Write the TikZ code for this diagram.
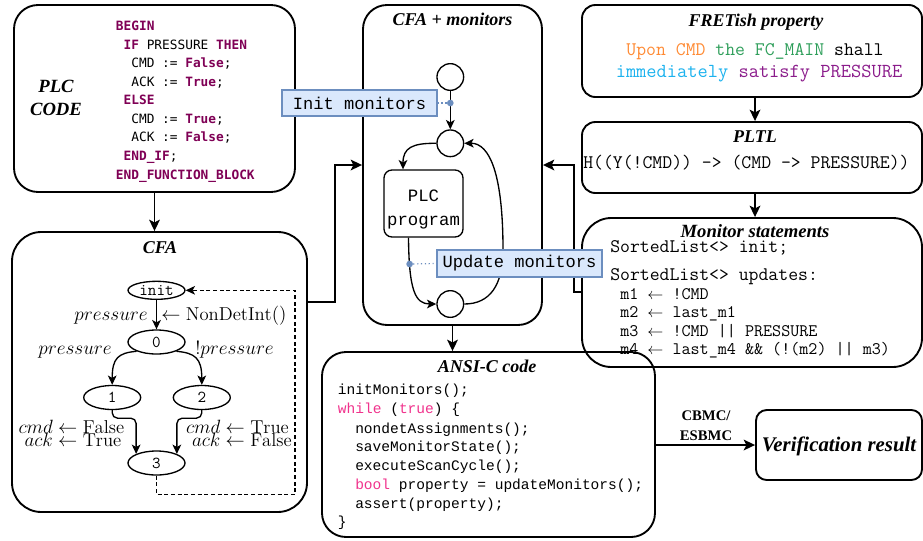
\documentclass[tikz,border=0pt]{standalone}
\usepackage{fontspec}
\usepackage{amsmath}
\usetikzlibrary{arrows.meta,fit,calc,shapes.geometric}
\newfontfamily\titleserif{Liberation Serif}
\newfontfamily\plcmono{DejaVu Sans Mono}
\newfontfamily\cmono{Liberation Mono}
\definecolor{plckwc}{HTML}{7F0055}
\definecolor{ckwc}{HTML}{F0328C}
\definecolor{fretor}{HTML}{FF8A33}
\definecolor{fretgr}{HTML}{2E9E5A}
\definecolor{fretcy}{HTML}{1CB2EE}
\definecolor{fretpu}{HTML}{8B1C8B}
\definecolor{monfill}{HTML}{DAE8FC}
\definecolor{monline}{HTML}{6C8EBF}
\newcommand\pk[1]{\textcolor{plckwc}{\bfseries #1}}
\newcommand\ck[1]{\textcolor{ckwc}{#1}}
\begin{document}
\begin{tikzpicture}[x=0.75pt,y=-0.75pt,
  box/.style={draw, line width=1.4pt, inner sep=0pt, rounded corners=#1},
  box/.default=18pt,
  ttl/.style={font=\titleserif\bfseries\itshape\fontsize{13.5}{15}\selectfont, inner sep=0pt},
  conn/.style={line width=1.4pt, -{Stealth[length=8.5pt,width=8pt,inset=2pt]}},
  edge/.style={line width=1pt, -{Stealth[length=7pt,width=6.5pt,inset=1.8pt]}},
  plcline/.style={font=\plcmono\fontsize{9.6}{11}\selectfont, anchor=base west, inner sep=0pt},
  cline/.style={font=\cmono\fontsize{10.9}{12}\selectfont, anchor=base west, inner sep=0pt},
  ttline/.style={font=\ttfamily\fontsize{14.4}{16}\selectfont, inner sep=0pt},
  mline/.style={font=\ttfamily\fontsize{13.2}{15}\selectfont, anchor=base west, inner sep=0pt},
  lbl/.style={font=\fontsize{14}{16}\selectfont, inner sep=0pt},
  st/.style={draw, ellipse, line width=1pt, minimum width=42.75pt, minimum height=18pt, inner sep=0pt, font=\ttfamily\fontsize{12.5}{14}\selectfont},
  circ/.style={draw, circle, line width=1pt, minimum size=20pt, inner sep=0pt},
  mbox/.style={draw=monline, fill=monfill, line width=0.9pt, inner sep=0pt, font=\cmono\fontsize{12.8}{14}\selectfont},
  mdot/.style={circle, fill=monline, minimum size=5pt, inner sep=0pt},
  mdots/.style={draw=monline, dotted, line width=0.9pt},
]
\useasboundingbox (0,0) rectangle (923,540);

% ---- boxes ----
\node[box=18pt, fit={(14,5)(295,192)}] (plc) {};
\node[box=22pt, fit={(12,232)(307,512)}] (cfa) {};
\node[box=18pt, fit={(363,5)(542,325)}] (cfam) {};
\node[box=10pt, fit={(582,5)(922,97)}] (fret) {};
\node[box=10pt, fit={(582,122)(922,193)}] (pltl) {};
\node[box=22pt, fit={(582,218)(922,367)}] (mon) {};
\node[box=18pt, fit={(322,352)(655,537)}] (ansi) {};
\node[box=8pt, fit={(756,410)(922,480)}] (verif) {};

% ---- titles ----
\node[ttl, align=center, font=\titleserif\bfseries\itshape\fontsize{14}{17}\selectfont] (tplc) at (56,98) {PLC\\CODE};
\node[ttl] (tcfa) at (160,248) {CFA};
\node[ttl] (tcfam) at (452.5,19.3) {CFA + monitors};
\node[ttl] (tfret) at (756,21.7) {FRETish property};
\node[ttl] (tpltl) at (755,136.7) {PLTL};
\node[ttl, font=\titleserif\bfseries\itshape\fontsize{14}{16}\selectfont] (tmon) at (755,231) {Monitor statements};
\node[ttl] (tansi) at (487,366) {ANSI-C code};
\node[ttl, font=\titleserif\bfseries\itshape\fontsize{15.6}{18}\selectfont] (tver) at (839,446) {Verification result};

% ---- PLC code ----
\node[plcline] (p0) at (115.7,30.6) {\pk{BEGIN}};
\node[plcline] (p1) at (123.4,49.2) {\pk{IF} PRESSURE \pk{THEN}};
\node[plcline] (p2) at (131.1,67.7) {CMD := \pk{False};};
\node[plcline] (p3) at (131.1,86.3) {ACK := \pk{True};};
\node[plcline] (p4) at (123.4,104.8) {\pk{ELSE}};
\node[plcline] (p5) at (131.1,123.4) {CMD := \pk{True};};
\node[plcline] (p6) at (131.1,141.9) {ACK := \pk{False};};
\node[plcline] (p7) at (123.4,160.5) {\pk{END\_IF};};
\node[plcline] (p8) at (115.7,179) {\pk{END\_FUNCTION\_BLOCK}};

% ---- CFA ----
\node[st, minimum height=13.5pt] (init) at (156.5,290.3) {init};
\node[st] (n0) at (156.5,342) {0};
\node[st] (n1) at (112.2,397.5) {1};
\node[st] (n2) at (201.8,397.5) {2};
\node[st] (n3) at (156.5,463) {3};
\draw[edge] (init.south) -- (n0.north);
\draw[edge] (n0.205) .. controls (118,353) and (112.2,358) .. (n1.north);
\draw[edge] (n0.335) .. controls (195,353) and (201.8,358) .. (n2.north);
\draw[edge, rounded corners=4pt] (n1.south) -- ++(0,8) -| (n3.156);
\draw[edge, rounded corners=4pt] (n2.south) -- ++(0,8) -| (n3.24);
\coordinate (lpc) at (295,290.3);
\draw[edge, dash pattern=on 3pt off 2pt, line width=0.9pt] (n3.south) -- ++(0,19) -| (lpc) -- (init.east);
\node[lbl, anchor=base east] (l1) at (148,320.5) {$pressure$};
\node[lbl, anchor=base west] (l2) at (161,320.5) {$\leftarrow \mathrm{NonDetInt}()$};
\node[lbl, anchor=base east] (l3) at (112,354.5) {$pressure$};
\node[lbl, anchor=base west] (l4) at (195,354.5) {$!pressure$};
\node[lbl, anchor=east] (l5) at (124.5,435.7) {$\begin{array}{@{}r@{}l@{}} cmd\leftarrow{} & \mathrm{False}\\[-6pt] ack\leftarrow{} & \mathrm{True}\end{array}$};
\node[lbl, anchor=east] (l6) at (292,435.7) {$\begin{array}{@{}r@{}l@{}} cmd\leftarrow{} & \mathrm{True}\\[-6pt] ack\leftarrow{} & \mathrm{False}\end{array}$};

% ---- CFA + monitors ----
\node[circ] (c1) at (450.3,77) {};
\node[circ] (c2) at (450.3,143.3) {};
\node[circ] (c3) at (450.3,304) {};
\node[draw, line width=1pt, rounded corners=6pt, fit={(384,170)(463,237)}, inner sep=0pt] (pbox) {};
\node[align=center, inner sep=0pt, font=\cmono\fontsize{13}{18}\selectfont] (ptxt) at (423.5,209) {PLC\\program};
\draw[edge] (c1.south) -- (c2.north);
\draw[edge] (c2.west) .. controls (412,143) and (403,148) .. ($(pbox.north)+(-20.5,0)$);
\draw[edge] ($(pbox.south)+(-15,0)$) .. controls (409,290) and (415,304) .. (c3.west);
\draw[edge] (c3.east) .. controls (490,304) and (503,285) .. (503,250) .. controls (503,175) and (490,143) .. (c2.east);

% ---- right column text ----
\node[ttline, anchor=base] (f1) at (755,55.7) {\textcolor{fretor}{Upon CMD} \textcolor{fretgr}{the FC\_MAIN} shall};
\node[ttline, anchor=base, font=\ttfamily\fontsize{14.9}{16}\selectfont] (f2) at (759,77.4) {\textcolor{fretcy}{immediately} \textcolor{fretpu}{satisfy PRESSURE}};
\node[ttline, anchor=base west] (pf) at (583,168.4) {H((Y(!CMD)) -> (CMD -> PRESSURE))};
\node[ttline, anchor=base west] (s1) at (610,252.4) {SortedList<> init;};
\node[ttline, anchor=base west] (s2) at (610,280.7) {SortedList<> updates:};
\node[mline] (m1) at (620,299.9) {m1 $\leftarrow$ !CMD};
\node[mline] (m2) at (620,317.6) {m2 $\leftarrow$ last\_m1};
\node[mline] (m3) at (620,336.6) {m3 $\leftarrow$ !CMD || PRESSURE};
\node[mline] (m4) at (620,354.2) {m4 $\leftarrow$ last\_m4 \&\& (!(m2) || m3)};

% ---- ANSI-C ----
\node[cline] (a1) at (337.7,394.8) {initMonitors();};
\node[cline] (a2) at (337.7,413.8) {\ck{while} (\ck{true}) \{};
\node[cline] (a3) at (355,433.1) {nondetAssignments();};
\node[cline] (a4) at (355,451.5) {saveMonitorState();};
\node[cline] (a5) at (355,470.8) {executeScanCycle();};
\node[cline] (a6) at (355,489.8) {\ck{bool} property = updateMonitors();};
\node[cline] (a7) at (355,508.1) {assert(property);};
\node[cline] (a8) at (337.7,526.5) {\}};

% ---- connectors ----
\draw[conn] (plc.south) -- (plc.south |- cfa.north);
\draw[conn] (cfa.east |- 0,302) -- (335,302) |- (cfam.west);
\draw[conn] (mon.west |- 0,292) -- (574,292) |- (cfam.east);
\draw[conn] (cfam.south) -- (cfam.south |- ansi.north);
\draw[conn] ([xshift=2.25pt]fret.south) -- ([xshift=2.25pt]fret.south |- pltl.north);
\draw[conn] ([xshift=2.25pt]pltl.south) -- ([xshift=2.25pt]pltl.south |- mon.north);
\draw[conn] (ansi.east |- verif.west) -- (verif.west);
\node[font=\titleserif\bfseries\fontsize{11}{15}\selectfont, align=center, inner sep=0pt] (cb) at (706,426) {CBMC/\\ESBMC};

% ---- monitor labels ----
\node[mbox, minimum width=116.25pt, minimum height=19.5pt] (initm) at (359.5,103) {Init monitors};
\node[mdot] (d1) at (450.3,103) {};
\draw[mdots] (initm.east) -- (d1);
\node[mbox, minimum width=123.75pt, minimum height=20.25pt] (updm) at (519.5,263.5) {Update monitors};
\node[mdot] (d2) at (409.6,264) {};
\draw[mdots] (d2) -- (updm.west);
\end{tikzpicture}
\end{document}
